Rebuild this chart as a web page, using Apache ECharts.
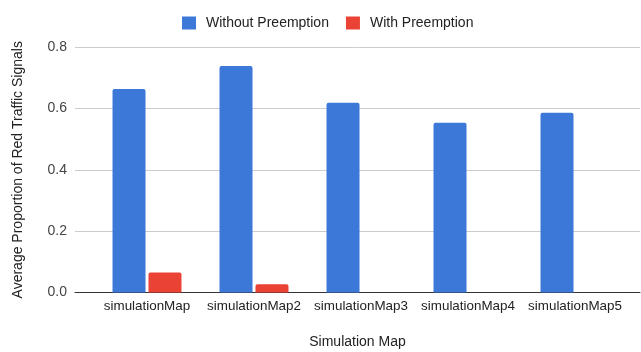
<!DOCTYPE html>
<html>
<head>
<meta charset="utf-8">
<script src="https://cdn.jsdelivr.net/npm/echarts@6/dist/echarts.min.js"></script>
<style>html,body{margin:0;padding:0;background:#fff}#c{width:641px;height:352px}</style>
</head>
<body>
<div id="c"></div>
<script>
const categories = ['simulationMap', 'simulationMap2', 'simulationMap3', 'simulationMap4', 'simulationMap5'];
const withoutPreemption = [0.663, 0.738, 0.618, 0.553, 0.586];
const withPreemption = [0.065, 0.027, 0, 0, 0];
const seriesNames = ['Without Preemption', 'With Preemption'];
const yTicks = [0, 0.2, 0.4, 0.6, 0.8];

const FONT = '"Liberation Sans", Arial, sans-serif';
const chart = echarts.init(document.getElementById('c'), null, {renderer: 'canvas'});
chart.setOption({
  animation: false,
  textStyle: {fontFamily: FONT},
  legend: {
    top: 11, left: 177,
    itemWidth: 14, itemHeight: 13, itemGap: 17,
    icon: 'rect',
    textStyle: {fontSize: 14, color: '#222', fontFamily: FONT, padding: [0, 0, 0, 5]},
    data: seriesNames
  },
  grid: [
    {left: 75, right: 1, top: 47, bottom: 59.5, outerBoundsMode: 'none', containLabel: false},
    {left: 93.5, right: 12.5, top: 47, bottom: 59.5, outerBoundsMode: 'none', containLabel: false}
  ],
  xAxis: [
    {
      type: 'category', gridIndex: 0, data: categories,
      axisLine: {onZero: false, lineStyle: {color: '#333', width: 1}},
      axisTick: {show: false}, axisLabel: {show: false},
      name: 'Simulation Map', nameLocation: 'middle', nameGap: 43,
      nameTextStyle: {fontSize: 14, color: '#222', fontFamily: FONT}
    },
    {
      type: 'category', gridIndex: 1, data: categories,
      axisLine: {show: false}, axisTick: {show: false},
      axisLabel: {fontSize: 13.4, color: '#222', margin: 7, fontFamily: FONT, interval: 0}
    }
  ],
  yAxis: [
    {
      type: 'value', gridIndex: 0, min: yTicks[0], max: yTicks[yTicks.length - 1], interval: 0.2,
      axisLine: {show: false}, axisTick: {show: false},
      axisLabel: {fontSize: 14, color: '#444', margin: 8, fontFamily: FONT, formatter: v => v.toFixed(1)},
      splitLine: {lineStyle: {color: '#cccccc', width: 1}},
      name: 'Average Proportion of Red Traffic Signals', nameLocation: 'middle', nameGap: 50,
      nameTextStyle: {fontSize: 14, color: '#222', fontFamily: FONT}
    },
    {
      type: 'value', gridIndex: 1, min: 0, max: 0.8, interval: 0.2, show: false,
      splitLine: {show: false}
    }
  ],
  series: [
    {
      name: seriesNames[0], type: 'bar', xAxisIndex: 1, yAxisIndex: 1,
      data: withoutPreemption, barWidth: 33, barGap: '9%',
      itemStyle: {color: '#3c78d8', borderRadius: [2, 2, 0, 0]}
    },
    {
      name: seriesNames[1], type: 'bar', xAxisIndex: 1, yAxisIndex: 1,
      data: withPreemption, barWidth: 33, barGap: '9%',
      itemStyle: {color: '#ea4335', borderRadius: [2, 2, 0, 0]}
    }
  ]
});
</script>
</body>
</html>
